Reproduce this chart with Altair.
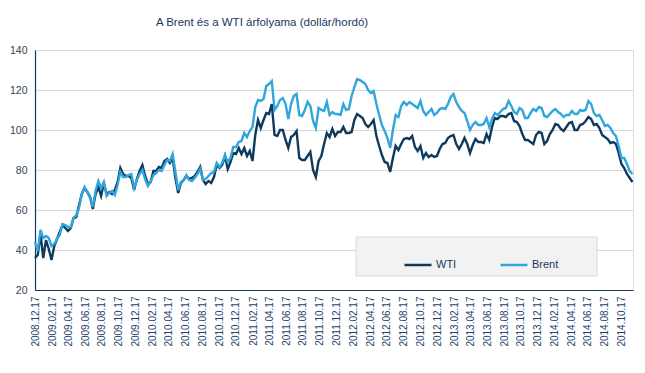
import altair as alt
import pandas as pd

# Sampling: every 10 days from 2008-12-17 to 2014-11-26 (218 points)
start_date = "2008-12-17"
n_points = 218

wti = [
    36.0, 37.5, 48.0, 36.0, 45.0, 40.5, 35.0, 42.0, 45.5, 49.0,
    52.5, 51.0, 49.5, 51.0, 56.0, 56.5, 62.5, 68.0, 71.0, 69.0,
    66.5, 60.5, 68.0, 71.5, 67.0, 73.5, 68.0, 69.0, 68.0, 70.0,
    74.0, 81.0, 78.0, 77.0, 77.0, 76.0, 70.0, 75.5, 79.5, 82.5,
    77.0, 73.0, 74.0, 79.5, 79.5, 81.5, 81.0, 84.5, 85.5, 83.5,
    86.0, 76.0, 68.5, 73.5, 75.0, 77.0, 75.5, 76.0, 77.0, 79.0,
    81.5, 75.0, 73.0, 74.5, 73.5, 76.5, 82.5, 81.0, 82.5, 87.0,
    80.5, 84.0, 88.5, 88.0, 91.0, 88.0, 91.0, 87.0, 89.5, 84.5,
    97.5, 105.0, 101.0, 105.0, 108.5, 108.0, 113.0, 97.5, 97.0, 100.0,
    100.0, 95.0, 91.0, 96.5, 97.5, 99.5, 86.0, 85.0, 85.0, 87.0,
    89.0, 80.0, 76.5, 84.5, 87.0, 93.0, 98.5, 96.5, 100.5, 97.0,
    99.0, 99.0, 101.5, 98.5, 98.5, 99.0, 105.0, 108.0, 107.0, 106.0,
    103.0, 101.5, 103.0, 105.0, 97.0, 92.0, 87.5, 84.0, 83.5, 79.0,
    86.0, 92.0, 90.0, 93.0, 95.5, 96.0, 95.5, 97.0, 91.5, 89.5,
    92.0, 86.0, 88.5, 86.5, 87.5, 86.5, 87.0, 90.5, 93.0, 93.5,
    96.0, 97.0, 97.5, 93.0, 90.5, 93.0, 96.0, 93.0, 88.5, 92.5,
    95.5, 94.0, 94.0, 93.5, 98.0, 95.0, 101.5, 106.0, 105.5, 107.0,
    107.0, 106.5, 108.0, 108.5, 104.5, 104.0, 102.0, 98.0, 95.0, 95.0,
    94.0, 93.0, 97.5, 99.0, 98.5, 93.0, 94.5, 98.0, 100.0, 103.0,
    102.5, 100.5, 99.5, 101.5, 103.5, 104.0, 100.0, 100.0, 102.5, 103.0,
    104.5, 106.5, 105.5, 102.5, 103.0, 101.0, 97.5, 96.5, 95.5, 93.5,
    94.0, 93.0, 88.5, 83.0, 81.0, 78.0, 76.0, 74.0,
]

brent = [
    44.0, 39.5, 50.0, 46.0, 47.0, 46.0, 42.0, 43.0, 45.5, 47.5,
    53.0, 52.5, 51.5, 51.5, 56.0, 57.5, 61.0, 68.0, 71.5, 69.0,
    66.0, 61.5, 69.5, 74.5, 71.0, 74.0, 67.0, 68.5, 69.5, 67.5,
    72.5, 79.0, 76.5, 76.5, 77.5, 78.0, 71.0, 75.0, 78.0, 80.0,
    75.5, 72.0, 74.0, 77.5, 78.5, 80.0, 79.5, 82.5, 85.0, 84.5,
    88.0, 79.0, 70.0, 74.0, 75.0, 77.5, 75.0, 74.5, 76.0, 78.0,
    80.5, 75.0, 75.5, 77.0, 78.5, 79.0, 83.5, 81.5, 83.5, 87.5,
    84.0, 86.0, 91.5, 91.5, 94.0, 94.5, 98.5, 96.5, 99.5, 101.5,
    111.5, 115.0, 114.5, 115.5, 122.0, 123.0, 124.5, 110.0, 112.0, 115.0,
    116.0, 113.0, 105.5, 113.0, 117.0, 118.0, 107.5, 107.0, 110.0, 114.0,
    112.0, 104.5, 101.0, 111.0, 110.0, 109.5, 114.0, 107.5, 109.0, 108.0,
    108.0, 107.5, 113.0, 110.0, 110.5, 117.0, 121.5, 125.5, 125.0, 124.0,
    123.0, 120.0, 118.5, 119.5, 113.0, 107.5, 102.5, 99.5, 96.0, 91.0,
    100.0, 107.5, 106.5, 112.0, 114.0, 112.5, 114.0, 113.0, 112.0, 111.0,
    114.5, 109.5, 107.5, 109.0, 110.5, 107.5, 108.5, 110.5, 111.0, 110.5,
    113.0, 116.5, 118.0, 114.0, 111.5, 109.5, 108.5, 104.5, 100.0, 102.5,
    104.0, 102.5, 102.5, 103.0, 106.0, 101.5, 105.5, 108.5, 107.5, 109.0,
    110.5, 111.0, 114.5, 112.0, 109.0, 108.0, 111.0, 110.0, 106.0, 106.0,
    108.5, 110.5, 109.5, 111.5, 111.0, 107.0, 106.5, 108.0, 109.5, 110.5,
    109.0, 108.0, 106.5, 107.5, 107.5, 109.5, 108.0, 108.0, 110.0, 109.5,
    110.0, 114.5, 113.0, 108.5, 107.0, 107.5, 105.0, 102.0, 102.5, 101.0,
    98.5, 97.0, 92.0, 86.0, 86.0, 83.0, 79.5, 78.0,
]

series_names = ["WTI", "Brent"]
series_colors = ["#0f3a5e", "#30a6dc"]

tick_dates = [
    "2008-12-17", "2009-02-17", "2009-04-17", "2009-06-17", "2009-08-17", "2009-10-17",
    "2009-12-17", "2010-02-17", "2010-04-17", "2010-06-17", "2010-08-17", "2010-10-17",
    "2010-12-17", "2011-02-17", "2011-04-17", "2011-06-17", "2011-08-17", "2011-10-17",
    "2011-12-17", "2012-02-17", "2012-04-17", "2012-06-17", "2012-08-17", "2012-10-17",
    "2012-12-17", "2013-02-17", "2013-04-17", "2013-06-17", "2013-08-17", "2013-10-17",
    "2013-12-17", "2014-02-17", "2014-04-17", "2014-06-17", "2014-08-17", "2014-10-17",
]
y_ticks = [20, 40, 60, 80, 100, 120, 140]

dates = pd.date_range(start_date, periods=n_points, freq="10D")
rows = []
for name, vals in zip(series_names, [wti, brent]):
    for d, v in zip(dates, vals):
        rows.append({"date": d.strftime("%Y-%m-%d"), "value": v, "series": name})
df = pd.DataFrame(rows)


def ms(s):
    return int(pd.Timestamp(s, tz="UTC").value // 10**6)


x_domain = [ms("2008-12-17"), ms("2014-11-28")]
tick_values = [ms(t) for t in tick_dates]

navy = "#17375e"
label_font = "Liberation Sans"

color = alt.Color(
    "series:N",
    scale=alt.Scale(domain=series_names, range=series_colors),
    legend=alt.Legend(
        orient="none",
        legendX=368,
        legendY=200,
        direction="horizontal",
        title=None,
        symbolType="stroke",
        symbolSize=729,
        symbolStrokeWidth=2.5,
        labelFont=label_font,
        labelFontSize=11,
        labelColor=navy,
        labelOffset=3,
        columnPadding=38,
        padding=0,
    ),
)

x = alt.X(
    "date:T",
    scale=alt.Scale(type="utc", domain=x_domain, nice=False),
    axis=alt.Axis(
        values=tick_values,
        labelExpr="utcFormat(datum.value, '%Y.%m.%d')",
        labelAngle=270,
        labelFont=label_font,
        labelFontSize=10,
        labelColor="#1f3f6e",
        labelPadding=6,
        ticks=False,
        grid=False,
        domainColor=navy,
        domainWidth=1.2,
        title=None,
        labelOverlap=False,
    ),
)
y = alt.Y(
    "value:Q",
    scale=alt.Scale(domain=[20, 140], nice=False, zero=False),
    axis=alt.Axis(
        values=y_ticks,
        labelFont=label_font,
        labelFontSize=10.5,
        labelColor="#2e3f52",
        labelPadding=8,
        ticks=False,
        grid=True,
        gridColor="#d9d9d9",
        gridWidth=1,
        domainColor=navy,
        domainWidth=1.2,
        title=None,
    ),
)

base = alt.Chart(df)
wti_line = base.transform_filter(alt.datum.series == "WTI").mark_line(strokeWidth=2.4).encode(x=x, y=y, color=color)
brent_line = base.transform_filter(alt.datum.series == "Brent").mark_line(strokeWidth=2.4).encode(x=x, y=y, color=color)

legend_box = alt.Chart(alt.Data(values=[{"box": 1}])).mark_rect(
    fill="#f2f2f2", stroke="#d9d9d9", strokeWidth=1
).encode(x=alt.value(321), x2=alt.value(562), y=alt.value(187), y2=alt.value(226))

chart = alt.layer(legend_box, wti_line, brent_line).properties(
    width=598,
    height=240,
    title=alt.TitleParams(
        text="A Brent és a WTI árfolyama (dollár/hordó)",
        font=label_font,
        fontSize=11.5,
        fontWeight="normal",
        color=navy,
        anchor="middle",
        dx=-72,
        offset=6,
        baseline="bottom",
    ),
    autosize=alt.AutoSizeParams(type="none"),
    padding={"left": 27, "top": 42, "right": 4, "bottom": 65},
).configure_view(stroke=None).configure(background="white")

chart.save("out.html", embed_options={"renderer": "svg", "actions": False})
